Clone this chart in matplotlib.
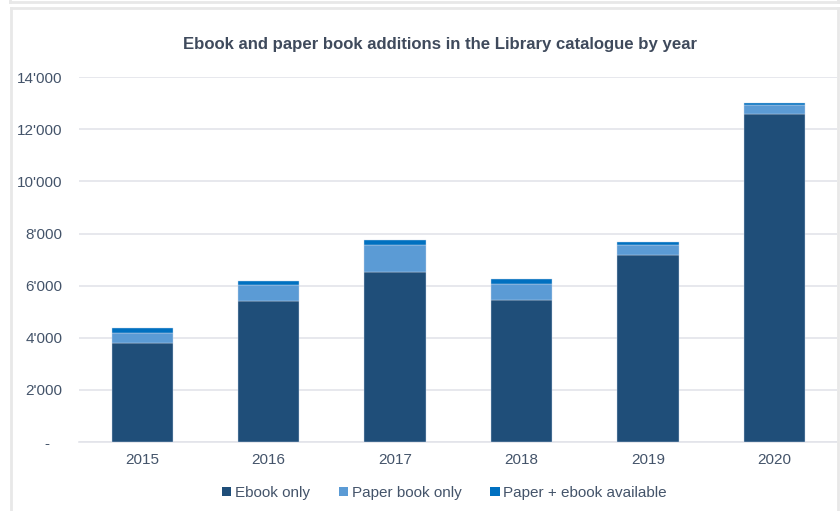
import matplotlib.pyplot as plt
from matplotlib.lines import Line2D
from matplotlib.patches import Patch

# catalogue additions per year, stacked by format
years = ["2015", "2016", "2017", "2018", "2019", "2020"]
ebook_only = [3810, 5410, 6520, 5450, 7190, 12580]
paper_only = [390, 610, 1050, 600, 360, 370]
paper_and_ebook = [170, 170, 200, 200, 130, 40]

series_names = ["Ebook only", "Paper book only", "Paper + ebook available"]
series_colors = ["#1f4e79", "#5b9bd5", "#0070c0"]
y_ticks = [0, 2000, 4000, 6000, 8000, 10000, 12000, 14000]

text_col = "#44546a"
grid_col = "#e3e4ea"
frame_col = "#e8e8e8"

plt.rcParams["font.family"] = ["Liberation Sans", "DejaVu Sans"]

fig = plt.figure(figsize=(8.4, 5.11), dpi=100)
ax = fig.add_axes([0.094, 0.135, 0.903, 0.714])

x = list(range(len(years)))
bottom = [0] * len(years)
for vals, col in zip([ebook_only, paper_only, paper_and_ebook], series_colors):
    ax.bar(x, vals, width=0.485, bottom=bottom, color=col,
           edgecolor="#c8d6ea", linewidth=0.3, zorder=3)
    bottom = [b + v for b, v in zip(bottom, vals)]

ax.set_xlim(-0.5, len(years) - 0.5)
ax.set_ylim(0, 14000)
ax.set_xticks(x)
ax.set_xticklabels(years)
ax.set_yticks(y_ticks)
ax.set_yticklabels(["-   "] + [f"{v:,}".replace(",", "'") for v in y_ticks[1:]])
ax.tick_params(axis="both", length=0, labelsize=11, labelcolor=text_col)
ax.tick_params(axis="y", pad=12)
ax.tick_params(axis="x", pad=8)
ax.grid(axis="y", color=grid_col, linewidth=1.2, zorder=0)
for side in ["top", "right", "left"]:
    ax.spines[side].set_visible(False)
ax.spines["bottom"].set_color(grid_col)
ax.spines["bottom"].set_linewidth(1.2)

fig.text(0.524, 1 - 44.5 / 511, "Ebook and paper book additions in the Library catalogue by year",
         ha="center", va="center", fontsize=12.1, fontweight="bold", color="#3f4a5c")

handles = [Patch(facecolor=c, edgecolor="none") for c in series_colors]
fig.legend(handles, series_names, loc="center", bbox_to_anchor=(0.529, 1 - 493 / 511),
           ncol=3, frameon=False, fontsize=11, labelcolor=text_col,
           handlelength=0.6, handleheight=0.6, handletextpad=0.25, columnspacing=1.9)

# panel frame lines
W, H = 840, 511
def frame_line(xs, ys):
    fig.add_artist(Line2D([v / W for v in xs], [1 - v / H for v in ys],
                          color=frame_col, linewidth=2, transform=fig.transFigure))

frame_line([10, 838], [2.5, 2.5])
frame_line([10, 10], [0, 2.5])
frame_line([838, 838], [0, 2.5])
frame_line([11, 838], [8, 8])
frame_line([11, 11], [8, 511])
frame_line([838, 838], [8, 511])

fig.savefig("out.png", dpi=100, facecolor="white")
